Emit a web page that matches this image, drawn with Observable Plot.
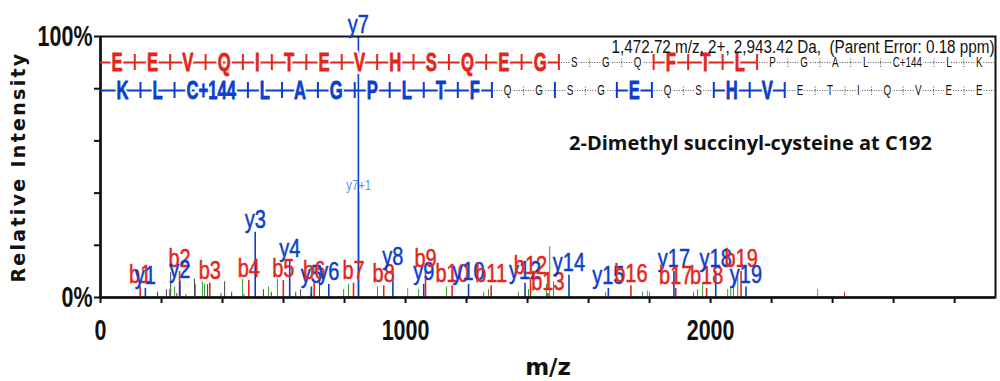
<!DOCTYPE html>
<html><head><meta charset="utf-8">
<script src="https://cdn.jsdelivr.net/npm/d3@7"></script>
<script src="https://cdn.jsdelivr.net/npm/@observablehq/plot@0.6"></script>
<style>
html,body{margin:0;padding:0;background:#fff;}
</style></head>
<body><div id="chart"></div>
<script>
// ---------------- DATA ----------------
const sequence = ["E","E","V","Q","I","T","E","V","H","S","Q","E","G","S","G","Q","F","T","L","P","G","A","L","C+144","L","K"];
const bObserved = [1,2,3,4,5,6,7,8,9,10,11,12,13,16,17,18,19];
const yObserved = [1,2,3,4,5,6,7,8,9,10,12,14,15,17,18,19];

const ionLabels = ["b1","y1","b2","y2","b3","b4","y3","b5","y4","y5","b6","y6","b7","y7","b8","y8","y9","b9","b10","y10","b11","y12","b12","b13","y14","y15","b16","y17","b17","b18","y18","b19","y19"];
const ionMz = [130.1,147.1,259.1,260.2,358.2,486.2,507.2,599.3,620.3,691.3,700.4,748.4,829.4,845.4,928.5,958.5,1059.6,1065.5,1152.6,1206.6,1280.6,1391.7,1409.7,1466.7,1535.8,1664.8,1738.8,1879.9,1885.9,1986.9,2016.9,2100.0,2116.0];
const ionIntensity = [4,3.5,10,6,5.5,6.5,25,6.5,14,4,5.5,5,5.5,100,4.5,11,5,10,4.5,5,4.5,5.5,7.5,1.5,8.5,3.5,4.5,10,3.5,3.5,10,10,4];

const isoLabel = "y7+1";
const isoMz = 846.4;
const isoIntensity = 40;

const greenMz = [226,243,311,334,341,466,551,580,797,813,908,1043,1134,1256,1272,1370,1403,1462,1472.7,1485,1656,1777,1800,1944,1957,1974,2056,2066,2075,2089];
const greenInt = [3,4,5,6,5,7,4,7,3,5,4,3,4,2,3,2,3,5,19.5,6,2,2,2,2,3,5,3,4,6,8];
const grayMz = [187,216,230,250,280,308,351,395,407,430,470,534,560,600,640,656,690,718];
const grayInt = [2,3,9.5,1.5,1,7,5,1.5,6,2,1,3,2,1.5,2,3,1.5,6];
const lightBlueMz = [1007,1793,2351];
const lightBlueInt = [3.5,2.5,3];
const redMz = [2439];
const redInt = [2];

const parentText = "1,472.72 m/z, 2+, 2,943.42 Da,  (Parent Error: 0.18 ppm)";
const modText = "2-Dimethyl succinyl-cysteine at C192";
const yTitle = "Relative Intensity";
const xTitle = "m/z";
const xMax = 2934;
const xTicks = d3.range(0, xMax, 200);
const yTicks = [0,20,40,60,80,100];

// ---------------- STYLE / LAYOUT ----------------
const W = 1000, H = 381, mL = 100, mR = 5, mT = 36, mB = 84;
const RED = "#e3261b", BLUE = "#0b3fcc", LBLUE = "#5a8ef5", GREEN = "#2e9e2e", GRAY = "#444";
const SANS = "'Liberation Sans',Arial,sans-serif";
// font sizes double as keys for the horizontal condensing applied after render
const LARGE_SIZE = 26, SMALL_SIZE = 14, PEAK_SIZE = 25, ISO_SIZE = 15, PARENT_SIZE = 17.5, TICK_SIZE = 29;
const squeezeBySize = {[TICK_SIZE]: 0.74, [PEAK_SIZE]: 0.8, [LARGE_SIZE]: 0.64, [SMALL_SIZE]: 0.7, [PARENT_SIZE]: 0.87, [ISO_SIZE]: 0.75};

const xs = d3.scaleLinear([0, xMax], [mL, W - mR]);
const ys = d3.scaleLinear([0, 100], [H - mB, mT]);

const ctx = document.createElement("canvas").getContext("2d");
function measure(t, large) {
  ctx.font = large ? `bold ${LARGE_SIZE}px ${SANS}` : `${SMALL_SIZE}px ${SANS}`;
  return ctx.measureText(t).width * (large ? squeezeBySize[LARGE_SIZE] : squeezeBySize[SMALL_SIZE]);
}

function layoutRow(tokens, large, x0, x1) {
  const w = tokens.map((t, i) => measure(t, large[i]));
  const gap = (x1 - x0 - d3.sum(w)) / (tokens.length - 1);
  let cur = x0; const centers = [];
  w.forEach(wi => { centers.push(cur + wi / 2); cur += wi + gap; });
  const bounds = centers.slice(0, -1).map((c, i) => (c + w[i] / 2 + centers[i + 1] - w[i + 1] / 2) / 2);
  return {centers, bounds};
}

function buildRow(tokens, observed, color, rowPx, x0, x1) {
  const obs = new Set(observed);
  const n = tokens.length;
  const large = tokens.map((t, k) => (k === 0 || obs.has(k)) && obs.has(k + 1));
  const {centers, bounds} = layoutRow(tokens, large, x0, x1);
  const yRow = ys.invert(rowPx);
  const letters = tokens.map((t, k) => ({x: xs.invert(centers[k]), y: yRow, t, large: large[k], color}));
  const segs = tokens.map((t, k) => ({
    x1: xs.invert(k === 0 ? mL : bounds[k - 1]),
    x2: xs.invert(k === n - 1 ? W - mR : bounds[k]),
    y: yRow, solid: large[k], color
  }));
  const ticks = bounds.map((b, j) => {
    const seen = obs.has(j + 1);
    const h = seen ? 8 : 5;
    return {x: xs.invert(b), y1: ys.invert(rowPx + h), y2: ys.invert(rowPx - h), seen, color};
  });
  return {letters, segs, ticks};
}

const topRow = buildRow(sequence, bObserved, RED, 62, 111, 982);
const botRow = buildRow(sequence.slice().reverse(), yObserved, BLUE, 90, 116, 982);
const rows = [topRow, botRow];
const letters = rows.flatMap(r => r.letters);
const segs = rows.flatMap(r => r.segs);
const seqTicks = rows.flatMap(r => r.ticks);

const ions = ionLabels.map((l, i) => ({label: l, mz: ionMz[i], int: ionIntensity[i], color: l[0] === "b" ? RED : BLUE}));
const noise = [
  ...greenMz.map((m, i) => ({mz: m, int: greenInt[i], color: GREEN})),
  ...grayMz.map((m, i) => ({mz: m, int: grayInt[i], color: GRAY})),
  ...lightBlueMz.map((m, i) => ({mz: m, int: lightBlueInt[i], color: LBLUE})),
  ...redMz.map((m, i) => ({mz: m, int: redInt[i], color: RED}))
];
const iso = [{label: isoLabel, mz: isoMz, int: isoIntensity}];

const chart = Plot.plot({
  width: W, height: H,
  marginLeft: mL, marginRight: mR, marginTop: mT, marginBottom: mB,
  x: {domain: [0, xMax]},
  y: {domain: [0, 100]},
  color: {type: "identity"},
  style: {background: "white", overflow: "visible"},
  marks: [
    Plot.ruleX(noise, {x: "mz", y1: 0, y2: "int", stroke: "color", strokeWidth: 1}),
    Plot.ruleX(iso, {x: "mz", y1: 0, y2: "int", stroke: LBLUE, strokeWidth: 1.5}),
    Plot.ruleX(ions, {x: "mz", y1: 0, y2: "int", stroke: "color", strokeWidth: 1.6}),
    Plot.frame({stroke: "#111", strokeWidth: 2}),
    Plot.ruleY([0], {stroke: "#111", strokeWidth: 2.5}),
    Plot.ruleX([0], {stroke: "#111", strokeWidth: 2.5}),
    Plot.axisX({ticks: xTicks, tickFormat: d => d % 1000 === 0 ? String(d) : "", tickSize: 6, tickPadding: 16,
      fontSize: TICK_SIZE, fontWeight: "bold", fontFamily: SANS, label: null, stroke: "#111", strokeWidth: 2, fill: "#111"}),
    Plot.axisY({ticks: yTicks, tickFormat: d => (d === 0 || d === 100) ? d + "%" : "", tickSize: 6, tickPadding: 2,
      fontSize: TICK_SIZE, fontWeight: "bold", fontFamily: SANS, label: null, stroke: "#111", strokeWidth: 2, fill: "#111"}),
    // sequence coverage rows
    Plot.ruleY(segs.filter(d => d.solid), {y: "y", x1: "x1", x2: "x2", stroke: "color", strokeWidth: 2}),
    Plot.ruleY(segs.filter(d => !d.solid), {y: "y", x1: "x1", x2: "x2", stroke: "#555", strokeWidth: 1, strokeDasharray: "1,1.5"}),
    Plot.ruleX(seqTicks.filter(d => d.seen), {x: "x", y1: "y1", y2: "y2", stroke: "color", strokeWidth: 2}),
    Plot.ruleX(seqTicks.filter(d => !d.seen), {x: "x", y1: "y1", y2: "y2", stroke: "#555", strokeWidth: 1, strokeDasharray: "1,1.5"}),
    // white halo under large residues, then the residues themselves (slightly emboldened)
    Plot.text(letters.filter(d => d.large), {x: "x", y: "y", text: "t", fill: "white", fontSize: LARGE_SIZE, fontWeight: "bold",
      fontFamily: SANS, stroke: "white", strokeWidth: 6}),
    Plot.text(letters.filter(d => d.large), {x: "x", y: "y", text: "t", fill: "color", fontSize: LARGE_SIZE, fontWeight: "bold",
      fontFamily: SANS, stroke: "color", strokeWidth: 0.8}),
    Plot.text(letters.filter(d => !d.large), {x: "x", y: "y", text: "t", fill: "#111", fontSize: SMALL_SIZE,
      fontFamily: SANS, stroke: "white", strokeWidth: 5, paintOrder: "stroke"}),
    // peak labels
    Plot.text(ions, {x: "mz", y: "int", text: "label", fill: "color", stroke: "color", strokeWidth: 0.5, fontSize: PEAK_SIZE, fontFamily: SANS, dy: -12}),
    Plot.text(iso, {x: "mz", y: "int", text: "label", fill: LBLUE, fontSize: ISO_SIZE, fontFamily: SANS, dy: -8}),
    // annotations
    Plot.text([parentText], {frameAnchor: "top-right", textAnchor: "end", lineAnchor: "middle", dx: -1, dy: 11, fontSize: PARENT_SIZE, fontFamily: SANS, fill: "#111"}),
    Plot.text([modText], {frameAnchor: "top-right", textAnchor: "middle", lineAnchor: "middle", dx: -245, dy: 107, fontSize: 20, fontWeight: "bold", fontFamily: "'Open Sans',sans-serif", fill: "#111"}),
    Plot.text([yTitle], {frameAnchor: "left", textAnchor: "middle", lineAnchor: "middle", dx: -82, rotate: -90, fontSize: 19, fontWeight: "bold", fontFamily: "'DejaVu Sans',sans-serif", fill: "#111"}),
    Plot.text([xTitle], {frameAnchor: "bottom", textAnchor: "middle", lineAnchor: "middle", dy: 70, fontSize: 23, fontWeight: "bold", fontFamily: "'DejaVu Sans',sans-serif", fill: "#111"})
  ]
});
document.getElementById("chart").appendChild(chart);
chart.querySelectorAll("text").forEach(t => { if (t.textContent === yTitle) t.setAttribute("letter-spacing", "2.3"); });
// horizontally condense the narrow-type texts, as in the reference
chart.querySelectorAll("text").forEach(t => {
  const g = t.closest("[font-size]");
  if (!g) return;
  const f = squeezeBySize[+g.getAttribute("font-size")];
  if (!f) return;
  const w = t.getComputedTextLength();
  if (w > 0) { t.setAttribute("textLength", (w * f).toFixed(2)); t.setAttribute("lengthAdjust", "spacingAndGlyphs"); }
});
</script>
</body></html>
